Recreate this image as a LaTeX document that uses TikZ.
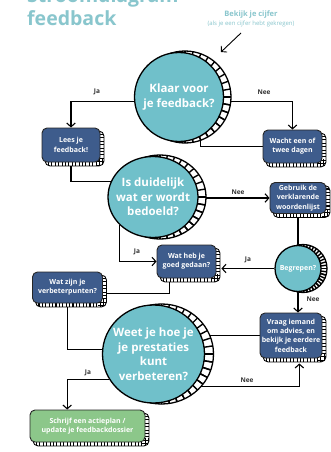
\documentclass[tikz,border=0pt]{standalone}
\usepackage{fontspec}
\setmainfont{Open Sans}
\usetikzlibrary{arrows.meta,calc,shapes.geometric}
\pgfdeclarelayer{lines}
\pgfdeclarelayer{rings}
\pgfsetlayers{lines,rings,main}
\definecolor{teal1}{HTML}{70C0CA}
\definecolor{navy1}{HTML}{3E5C8C}
\definecolor{green1}{HTML}{8CC78A}
\definecolor{titlec}{HTML}{89C6CD}
\definecolor{lblc}{HTML}{333333}
\newcommand\coinrim[5]{%
\begin{pgfonlayer}{rings}
 \path (#1.center) ++(#4,0) coordinate (#1rc);
 \begin{scope}
  \path[clip] (#1rc) ellipse [x radius=#2, y radius=#3];
  \fill[white] (#1rc) ellipse [x radius=#2, y radius=#3];
  \foreach \i in {0,...,60} {\pgfmathsetmacro\aa{\i*#5}
   \draw[line width=1.4pt] (#1rc) -- ++(\aa:70);}
 \end{scope}
 \draw[line width=1.3pt] (#1rc) ellipse [x radius=#2, y radius=#3];
\end{pgfonlayer}}
\newcommand\cardshadow[1]{%
\begin{pgfonlayer}{rings}
 \path ($(#1.south west)+(3.5,3.5)$) coordinate (#1sa) ($(#1.north east)+(3.5,3.5)$) coordinate (#1sb);
 \begin{scope}
  \path[clip, rounded corners=5pt] (#1sa) rectangle (#1sb);
  \fill[white] (#1sa) rectangle (#1sb);
  \foreach \k in {0,...,40} \draw[line width=1.1pt] ($(#1sa)+(\k*3.4,-8)$) -- ++(0,16);
  \foreach \k in {0,...,20} \draw[line width=1.1pt] ($(#1sb)+(-8,\k*3.4)$) -- ++(16,0);
 \end{scope}
 \draw[line width=0.9pt, rounded corners=5pt] (#1sa) rectangle (#1sb);
\end{pgfonlayer}}
\begin{document}
\begin{tikzpicture}[x=1pt,y=-1pt,
  coin/.style={circle, fill=teal1, draw=black, line width=1.3pt, text=white,
    font=\bfseries\fontsize{11.5}{14.5}\selectfont, align=center, inner sep=0pt},
  coinE/.style={ellipse, fill=teal1, draw=black, line width=1.3pt, text=white,
    font=\bfseries\fontsize{11.5}{14.5}\selectfont, align=center, inner sep=-12pt},
  card/.style={rectangle, rounded corners=5pt, fill=navy1, draw=black!85, line width=0.9pt,
    text=white, font=\bfseries\fontsize{7}{9.3}\selectfont, align=center, inner sep=1pt},
  arr/.style={-{Straight Barb[length=3.8pt,width=8.5pt]}, line width=1.1pt},
  conn/.style={line width=1.1pt},
  lbl/.style={font=\bfseries\fontsize{6.5}{8}\selectfont, text=lblc},
  ttl/.style={font=\bfseries\fontsize{19.5}{24}\selectfont, text=titlec, anchor=base west, inner sep=0pt}]
\useasboundingbox (0,0) rectangle (331,452);
\begin{pgfonlayer}{lines}
\fill[white] (0,0) rectangle (331,452);
\end{pgfonlayer}
% title
\node[ttl] (t1) at (27,2.5) {Stroomdiagram};
\node[ttl] (t2) at (27,26) {feedback};
\node[font=\bfseries\fontsize{7.5}{9}\selectfont, text=titlec] (bk) at (251,15) {Bekijk je cijfer};
\node[font=\fontsize{6}{7}\selectfont, text=titlec] (bk2) at (251,24) {(als je een cijfer hebt gekregen)};
\coordinate (bkfrom) at (241,33);
\coordinate (bkto) at (221,52);
% coins
\node[coin, minimum size=89pt] (c1) at (179,97) {Klaar voor\\je feedback?};
\node[coinE, minimum width=90pt, minimum height=81pt] (c2) at (153,197) {Is duidelijk\\wat er wordt\\bedoeld?};
\node[coinE, minimum width=102pt, minimum height=98pt] (c3) at (153.5,354) {Weet je hoe je\\je prestaties\\kunt\\verbeteren?};
\node[coin, minimum size=46pt, font=\bfseries\fontsize{7}{8}\selectfont] (c4) at (298,268.5) {Begrepen?};
\coinrim{c1}{46}{46}{6}{10}
\coinrim{c2}{46}{42}{7}{10}
\coinrim{c3}{52}{50}{8}{9}
\coinrim{c4}{24}{24}{5}{16}
% cards
\node[card, minimum width=58pt, minimum height=34pt] (lees) at (71,145) {Lees je\\feedback!};
\node[card, minimum width=59pt, minimum height=33pt] (wacht) at (292.5,146.5) {Wacht een of\\twee dagen};
\node[card, minimum width=56pt, minimum height=31pt] (gebruik) at (298,198) {Gebruik de\\verklarende\\woordenlijst};
\node[card, minimum width=59pt, minimum height=33pt] (wathe) at (186.5,261.5) {Wat heb je\\goed gedaan?};
\node[card, minimum width=70pt, minimum height=31pt] (watzijn) at (67.5,287.5) {Wat zijn je\\verbeterpunten?};
\node[card, minimum width=62pt, minimum height=45pt] (vraag) at (291,335.5) {Vraag iemand\\om advies, en\\bekijk je eerdere\\feedback};
\node[card, fill=green1, minimum width=115pt, minimum height=32pt] (plan) at (87.5,426) {Schrijf een actieplan /\\update je feedbackdossier};
\cardshadow{lees}
\cardshadow{wacht}
\cardshadow{gebruik}
\cardshadow{wathe}
\cardshadow{watzijn}
\cardshadow{vraag}
\cardshadow{plan}
% labels
\node[lbl] (l1) at (97,92) {Ja};
\node[lbl] (l2) at (264,92) {Nee};
\node[lbl] (l3) at (238,192) {Nee};
\node[lbl] (l4) at (137,252) {Ja};
\node[lbl] (l5) at (248,260) {Ja};
\node[lbl] (l6) at (313,299) {Nee};
\node[lbl] (l7) at (247,380) {Nee};
\node[lbl] (l8) at (88,373) {Ja};
% connectors
\begin{pgfonlayer}{lines}
\draw[arr, line width=0.9pt] (bkfrom) -- (bkto);
\draw[arr] (c1.186) -| (lees.north);
\draw[arr] (c1.354) -| (wacht.north);
\draw[conn] (c1.-62) |- (wacht.west);
\draw[conn] (lees.south) |- (c2.160);
\draw[arr] (gebruik.west -| c2.east) -- (gebruik.west);
\draw[conn] (gebruik.south) -- (c4.north);
\draw[arr, shorten >=5pt] (c4.west) -- (c4.west -| wathe.east);
\draw[arr] (c2.220) |- (wathe.west);
\draw[conn] (wathe.-135) |- (watzijn.-10);
\draw[conn] (watzijn.south) |- (c3.175);
\draw[arr] (c4.south) -- (c4.south |- vraag.north);
\draw[conn] (vraag.west) -- (vraag.west -| c3.center);
\draw[arr, shorten >=5pt] (c3.-40) -| (vraag.-70);
\draw[arr] (c3.-150) -| (plan.141);
\end{pgfonlayer}
\end{tikzpicture}
\end{document}
